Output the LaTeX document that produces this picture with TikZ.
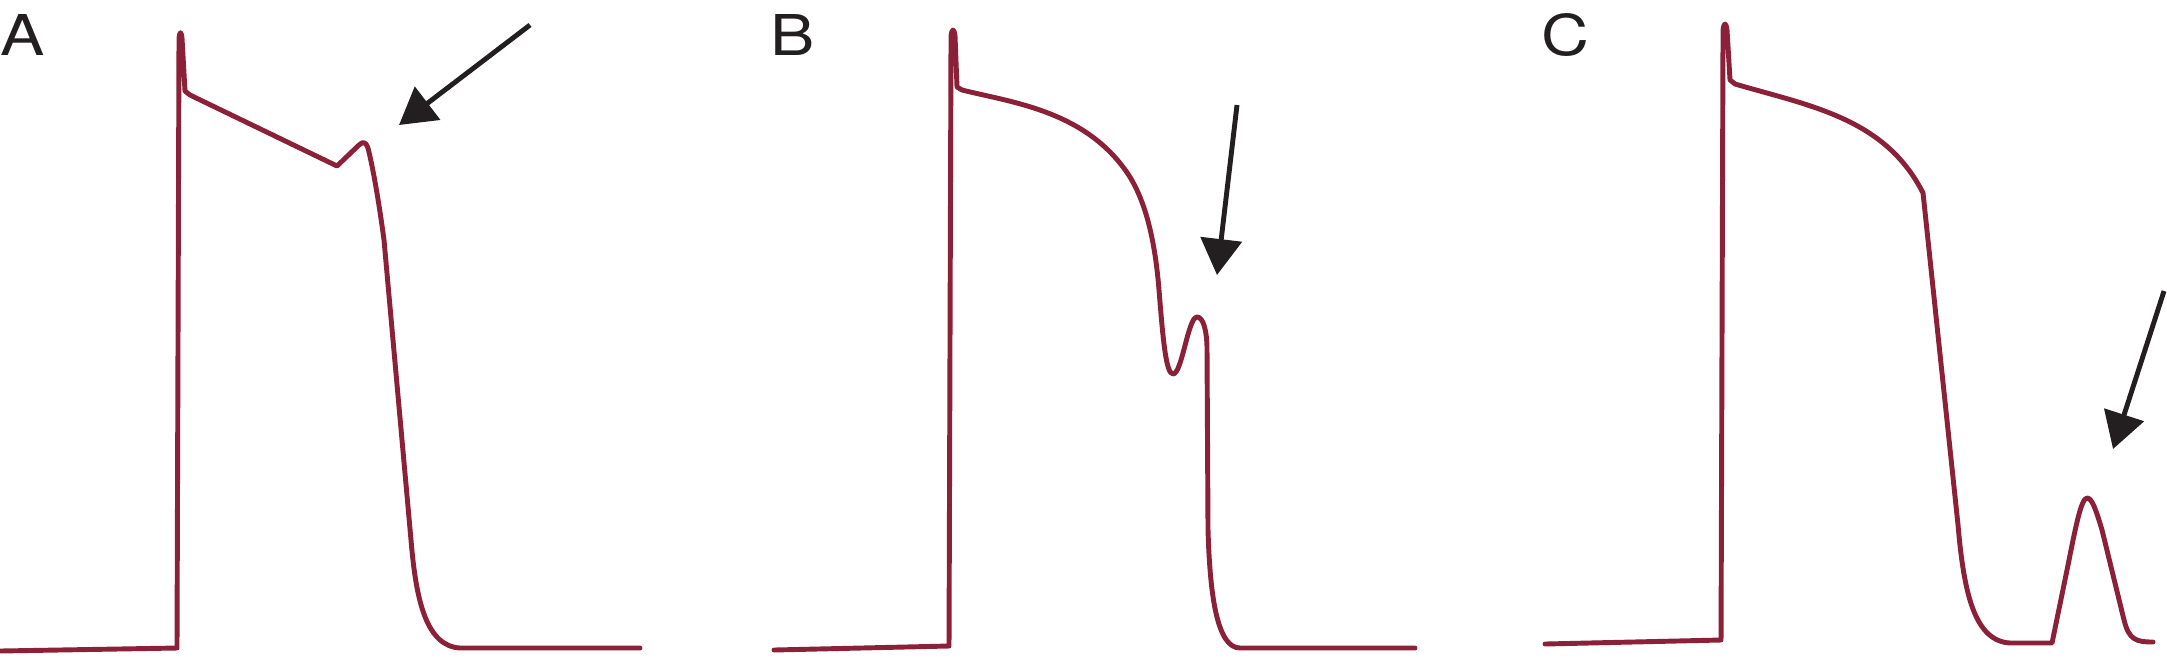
\documentclass[tikz,border=0pt]{standalone}
\usepackage{fontspec}
\usepackage{graphicx}
\setmainfont{TeX Gyre Heros}
\usetikzlibrary{arrows.meta}
\definecolor{apred}{RGB}{139,33,56}
\definecolor{arrblack}{RGB}{35,31,32}
\tikzset{
  trace/.style={draw=apred, line width=1.4pt, line join=round, line cap=round},
  pointer/.style={draw=arrblack, line width=1.4pt, -{Triangle[length=3.6mm,width=4.1mm]}},
  panel/.style={anchor=base west, inner sep=0pt, font=\fontsize{16}{19}\selectfont, text=arrblack}
}
\newcommand{\widelabel}[1]{\scalebox{1.18}[1]{#1}}
\begin{document}
\begin{tikzpicture}[x=0.1mm, y=-0.1mm]
\useasboundingbox (0,0) rectangle (2167,657);
% labels
\node[panel] (labA) at (0,55) {\widelabel{A}};
\node[panel] (labB) at (770,55) {\widelabel{B}};
\node[panel] (labC) at (1541,55) {\widelabel{C}};
% trace A
\draw[trace] (0,651) -- (177,648) -- (179,38) .. controls (180,31) and (181,31) .. (182,38)
  -- (185,91) -- (190,95) -- (337,166) -- (359,145)
  .. controls (363,141) and (366,142) .. (368,148)
  .. controls (374,172) and (380,210) .. (384,240)
  -- (411,540) .. controls (416,600) and (426,646) .. (460,648) -- (640,648);
% trace B
\draw[trace] (774,650) -- (949,646) -- (951,36) .. controls (952,28) and (954,28) .. (955,36)
  -- (957,87) -- (962,90)
  .. controls (1010,102) and (1080,110) .. (1123,167)
  .. controls (1145,195) and (1155,240) .. (1159,290)
  .. controls (1163,340) and (1166,374) .. (1173,374)
  .. controls (1182,374) and (1188,317) .. (1197,317)
  .. controls (1203,317) and (1207,330) .. (1207,350)
  -- (1208,530) .. controls (1210,600) and (1218,648) .. (1240,648) -- (1415,648);
% trace C
\draw[trace] (1545,644) -- (1721,640) -- (1723,30) .. controls (1724,22) and (1726,22) .. (1727,30)
  -- (1730,80) -- (1735,84)
  .. controls (1810,106) and (1885,118) .. (1923,193)
  -- (1958,525) .. controls (1964,595) and (1975,641) .. (2010,643)
  -- (2052,643) -- (2068,565) .. controls (2075,530) and (2081,498) .. (2087,498)
  .. controls (2092,498) and (2096,510) .. (2102,530)
  -- (2124,620) .. controls (2129,640) and (2136,642) .. (2153,642);
% arrows
\coordinate (a0) at (530,25);   \coordinate (a1) at (399,125);
\coordinate (b0) at (1237,105); \coordinate (b1) at (1217,275);
\coordinate (c0) at (2164,291); \coordinate (c1) at (2113,449);
\draw[pointer] (a0) -- (a1);
\draw[pointer] (b0) -- (b1);
\draw[pointer] (c0) -- (c1);
\end{tikzpicture}
\end{document}
